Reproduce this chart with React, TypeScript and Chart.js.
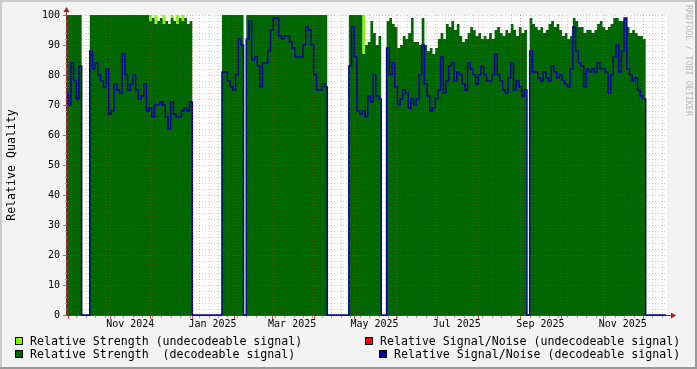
import React, { useEffect, useRef } from "react";
import { Chart, registerables } from "chart.js";

Chart.register(...registerables);

// ---- time axis (days relative to 2024-11-01) ----
const X_MIN = -31.87;
const X_MAX = 412.8;
const SAMPLE_START = -32; // first consolidated sample (day)
const SAMPLE_STEP = 2; // days between samples

const monthStarts = [-31, 0, 30, 61, 92, 120, 151, 181, 212, 242, 273, 304, 334, 365, 395];
const firstMonday = -25; // 2024-10-07
const labelDays = [15, 76, 135, 196, 257, 319, 380];
const labelTexts = ["Nov 2024", "Jan 2025", "Mar 2025", "May 2025", "Jul 2025", "Sep 2025", "Nov 2025"];
const yTicks = [0, 10, 20, 30, 40, 50, 60, 70, 80, 90, 100];

// ---- series ----
const strengthDecodeable = [
  100, 100, 100, 100, 100, 100, 0, 0, 0,
  100, 100, 100, 100, 100, 100, 100, 100, 100, 100,
  100, 100, 100, 100, 100, 100, 100, 100, 100, 100,
  100, 100,
  98, 99, 97, 98, 99, 97, 98, 97, 99, 98, 97, 99, 98, 99, 97, 98,
  0, 0, 0, 0, 0, 0, 0, 0, 0, 0, 0,
  100, 100, 100, 100, 100, 100, 100, 100,
  0,
  100, 100, 100, 100, 100, 100, 100, 100, 100, 100,
  100, 100, 100, 100, 100, 100, 100, 100, 100, 100,
  100, 100, 100, 100, 100, 100, 100, 100, 100, 100,
  0, 0, 0, 0, 0, 0, 0, 0,
  100, 100, 100, 100, 100, 87, 90, 91, 98, 94, 90, 93,
  0, 0,
  98, 99, 97, 96, 89, 90, 93, 92, 94, 99,
  91, 91, 90, 99, 90, 88, 89, 87, 89, 92,
  94, 92, 97, 96, 98, 95, 97, 93, 91, 92,
  94, 96, 95, 93, 94, 92, 93, 92, 94, 92,
  95, 96, 94, 93, 95, 94, 97, 95, 93, 96,
  94, 95,
  0,
  99, 97, 96, 95, 96, 94, 95, 97, 98, 96,
  97, 95, 93, 94, 92, 93, 99, 98, 96, 96,
  94, 95, 95, 94, 95, 97, 98, 96, 95, 96,
  97, 99, 99, 98, 98, 99, 96, 94, 95, 94,
  93, 93, 92,
  0, 0, 0, 0, 0, 0, 0, 0,
];

const strengthUndecodeable = [
  0, 0, 0, 0, 0, 0, 0, 0, 0, 0,
  0, 0, 0, 0, 0, 0, 0, 0, 0, 0,
  0, 0, 0, 0, 0, 0, 0, 0, 0, 0,
  0, 100, 0, 100, 0, 0, 100, 0, 0, 100,
  0, 100, 0, 100, 0, 0, 0, 0, 0, 0,
  0, 0, 0, 0, 0, 0, 0, 0, 0, 0,
  0, 0, 0, 0, 0, 0, 0, 0, 0, 0,
  0, 0, 0, 0, 0, 0, 0, 0, 0, 0,
  0, 0, 0, 0, 0, 0, 0, 0, 0, 0,
  0, 0, 0, 0, 0, 0, 0, 0, 0, 0,
  0, 0, 0, 0, 0, 0, 0, 0, 0, 0,
  100, 0, 0, 0, 0, 0, 0, 0, 0, 0,
  0, 0, 0, 0, 0, 0, 0, 0, 0, 0,
  0, 0, 0, 0, 0, 0, 0, 0, 0, 0,
  0, 0, 0, 0, 0, 0, 0, 0, 0, 0,
  0, 0, 0, 0, 0, 0, 0, 0, 0, 0,
  0, 0, 0, 0, 0, 0, 0, 0, 0, 0,
  0, 0, 0, 0, 0, 0, 0, 0, 0, 0,
  0, 0, 0, 0, 0, 0, 0, 0, 0, 0,
  0, 0, 0, 0, 0, 0, 0, 0, 0, 0,
  0, 0, 0, 0, 0, 0, 0, 0, 0, 0,
  0, 0, 0, 0, 0, 0, 0, 0, 0, 0,
  0, 0, 0,
];

const snDecodeable = [
  74, 70, 84, 78, 72, 83, 0, 0, 0,
  88, 82, 84, 80, 78, 76, 82, 67, 68, 77,
  75, 74, 87, 80, 75, 77, 80, 75, 72, 73,
  77, 68,
  69, 66, 70, 70, 71, 70, 66, 62, 71, 67, 66, 66, 68, 69, 68, 71,
  0, 0, 0, 0, 0, 0, 0, 0, 0, 0, 0,
  81, 81, 78, 76, 75, 80, 92, 90,
  0,
  92, 98, 85, 86, 83, 76, 84, 84, 88, 95,
  99, 99, 93, 92, 93, 93, 91, 89, 86, 86,
  86, 90, 96, 95, 90, 80, 75, 75, 77, 76,
  0, 0, 0, 0, 0, 0, 0, 0,
  83, 96, 86, 68, 67, 68, 66, 73, 71, 80, 73, 72,
  0, 0,
  89, 80, 84, 76, 70, 72, 75, 74, 69, 72,
  70, 72, 80, 90, 77, 73, 68, 69, 72, 75,
  86, 74, 78, 83, 84, 78, 81, 80, 77, 75,
  84, 82, 80, 77, 80, 83, 80, 78, 78, 80,
  87, 80, 78, 75, 74, 79, 84, 75, 78, 76,
  73, 75,
  0,
  88, 81, 81, 79, 78, 81, 79, 78, 83, 81,
  79, 80, 78, 77, 76, 82, 96, 88, 84, 83,
  76, 82, 81, 82, 81, 84, 82, 82, 81, 74,
  80, 86, 90, 81, 88, 99, 82, 80, 78, 79,
  75, 73, 72,
  0, 0, 0, 0, 0, 0, 0, 0,
];

const sampleDays = strengthDecodeable.map((_, i) => SAMPLE_START + i * SAMPLE_STEP);
const toPoints = (arr: number[]) => arr.map((v, i) => ({ x: sampleDays[i], y: v }));

const MONO = "'DejaVu Sans Mono', monospace";

const rrdPlugin = {
  id: "rrd",
  beforeDraw(chart: any) {
    const { ctx, chartArea: a, width, height } = chart;
    ctx.save();
    ctx.fillStyle = "#F3F3F3";
    ctx.fillRect(0, 0, width, height);
    ctx.fillStyle = "#CBCBCB";
    ctx.fillRect(0, 0, width, 2);
    ctx.fillRect(0, 0, 2, height);
    ctx.fillStyle = "#999999";
    ctx.fillRect(0, height - 2, width, 2);
    ctx.fillRect(width - 2, 0, 2, height);
    ctx.fillStyle = "#FFFFFF";
    ctx.fillRect(a.left, a.top, a.right - a.left, a.bottom - a.top);
    ctx.restore();
  },
  beforeDatasetsDraw(chart: any) {
    const { ctx, chartArea: a } = chart;
    ctx.save();
    ctx.strokeStyle = "#8B3030";
    ctx.lineWidth = 1;
    ctx.beginPath();
    ctx.moveTo(a.left - 0.5, a.top - 4);
    ctx.lineTo(a.left - 0.5, a.bottom + 0.5);
    ctx.lineTo(a.right + 4, a.bottom + 0.5);
    ctx.stroke();
    ctx.restore();
  },
  afterDatasetsDraw(chart: any) {
    const { ctx, chartArea: a } = chart;
    const xs = chart.scales.x;
    const ys = chart.scales.y;
    ctx.save();
    ctx.lineWidth = 1;
    // ---- grid ----
    ctx.setLineDash([1, 2]);
    const minor = "rgba(90,90,90,0.27)";
    const major = "rgba(240,60,60,0.3)";
    for (let v = 2; v < 100; v += 2) {
      if (v % 10 === 0) continue;
      const y = Math.round(ys.getPixelForValue(v)) + 0.5;
      ctx.strokeStyle = minor;
      ctx.beginPath();
      ctx.moveTo(a.left, y);
      ctx.lineTo(a.right, y);
      ctx.stroke();
    }
    for (let d = firstMonday; d <= X_MAX; d += 7) {
      const x = Math.round(xs.getPixelForValue(d)) + 0.5;
      ctx.strokeStyle = minor;
      ctx.beginPath();
      ctx.moveTo(x, a.top);
      ctx.lineTo(x, a.bottom);
      ctx.stroke();
    }
    yTicks.forEach((v) => {
      if (v === 0) return;
      const y = Math.round(ys.getPixelForValue(v)) + 0.5;
      ctx.strokeStyle = major;
      ctx.beginPath();
      ctx.moveTo(a.left, y);
      ctx.lineTo(a.right, y);
      ctx.stroke();
    });
    monthStarts.forEach((d) => {
      const x = Math.round(xs.getPixelForValue(d)) + 0.5;
      ctx.strokeStyle = major;
      ctx.beginPath();
      ctx.moveTo(x, a.top);
      ctx.lineTo(x, a.bottom);
      ctx.stroke();
    });
    ctx.setLineDash([]);

    // ---- tick marks ----
    for (let v = 0; v <= 100; v += 2) {
      const y = Math.round(ys.getPixelForValue(v)) + 0.5;
      const isMajor = v % 10 === 0;
      ctx.strokeStyle = isMajor ? "#D05050" : "#A0A0A0";
      ctx.beginPath();
      ctx.moveTo(a.left - (isMajor ? 4 : 2), y);
      ctx.lineTo(a.left, y);
      ctx.stroke();
    }
    for (let d = firstMonday; d <= X_MAX; d += 7) {
      const x = Math.round(xs.getPixelForValue(d)) + 0.5;
      ctx.strokeStyle = "#A0A0A0";
      ctx.beginPath();
      ctx.moveTo(x, a.bottom + 1);
      ctx.lineTo(x, a.bottom + 3);
      ctx.stroke();
    }
    monthStarts.forEach((d) => {
      const x = Math.round(xs.getPixelForValue(d)) + 0.5;
      ctx.strokeStyle = "#D05050";
      ctx.beginPath();
      ctx.moveTo(x, a.bottom + 1);
      ctx.lineTo(x, a.bottom + 4);
      ctx.stroke();
    });

    // ---- arrows ----
    ctx.fillStyle = "#9B2020";
    ctx.beginPath();
    ctx.moveTo(a.left - 0.5, a.top - 8);
    ctx.lineTo(a.left - 3.5, a.top - 3);
    ctx.lineTo(a.left + 2.5, a.top - 3);
    ctx.closePath();
    ctx.fill();
    ctx.beginPath();
    ctx.moveTo(a.right + 9, a.bottom + 0.5);
    ctx.lineTo(a.right + 4, a.bottom - 2.5);
    ctx.lineTo(a.right + 4, a.bottom + 3.5);
    ctx.closePath();
    ctx.fill();

    // ---- axis labels ----
    ctx.fillStyle = "#000000";
    ctx.font = `10px ${MONO}`;
    ctx.textBaseline = "middle";
    ctx.textAlign = "right";
    yTicks.forEach((v) => {
      ctx.fillText(String(v), 60, ys.getPixelForValue(v) + 0.5);
    });
    ctx.textAlign = "center";
    labelDays.forEach((d, i) => {
      ctx.fillText(labelTexts[i], xs.getPixelForValue(d), a.bottom + 9.5);
    });

    // ---- y title ----
    ctx.font = `11.6px ${MONO}`;
    ctx.save();
    ctx.translate(11.5, 165);
    ctx.rotate(-Math.PI / 2);
    ctx.textAlign = "center";
    ctx.fillText("Relative Quality", 0, 0);
    ctx.restore();

    // ---- watermark ----
    ctx.save();
    ctx.font = `8.4px ${MONO}`;
    ctx.fillStyle = "#B8B8B8";
    ctx.translate(688, 5);
    ctx.rotate(Math.PI / 2);
    ctx.textAlign = "left";
    ctx.fillText("RRDTOOL / TOBI OETIKER", 0, 0);
    ctx.restore();

    // ---- legend ----
    const items = [
      { box: [15, 337], text: [30, 341.5], color: "#80FF00", label: "Relative Strength (undecodeable signal)" },
      { box: [365, 337], text: [380, 341.5], color: "#FF0000", label: "Relative Signal/Noise (undecodeable signal)" },
      { box: [15, 350], text: [30, 355], color: "#006600", label: "Relative Strength  (decodeable signal)" },
      { box: [379, 350], text: [394, 355], color: "#000099", label: "Relative Signal/Noise (decodeable signal)" },
    ];
    ctx.font = `11.6px ${MONO}`;
    ctx.textAlign = "left";
    items.forEach((it) => {
      ctx.fillStyle = it.color;
      ctx.fillRect(it.box[0], it.box[1], 8, 8);
      ctx.strokeStyle = "#000000";
      ctx.strokeRect(it.box[0] + 0.5, it.box[1] + 0.5, 7, 7);
      ctx.fillStyle = "#000000";
      ctx.fillText(it.label, it.text[0], it.text[1]);
    });
    ctx.restore();
  },
};

export default function App() {
  const ref = useRef<HTMLCanvasElement>(null);
  useEffect(() => {
    if (!ref.current) return;
    const chart = new Chart(ref.current, {
      type: "line",
      data: {
        datasets: [
          {
            label: "Relative Signal/Noise (decodeable signal)",
            data: toPoints(snDecodeable),
            borderColor: "#000099",
            borderWidth: 1.5,
            stepped: "middle",
            fill: false,
            pointRadius: 0,
            order: 1,
            clip: 3,
          } as any,
          {
            label: "Relative Strength  (decodeable signal)",
            data: toPoints(strengthDecodeable),
            borderColor: "rgba(0,0,0,0)",
            borderWidth: 0,
            backgroundColor: "#006600",
            stepped: "middle",
            fill: "origin",
            pointRadius: 0,
            order: 2,
            clip: 0,
          },
          {
            label: "Relative Strength (undecodeable signal)",
            data: toPoints(strengthUndecodeable),
            borderColor: "rgba(0,0,0,0)",
            borderWidth: 0,
            backgroundColor: "#80FF00",
            stepped: "middle",
            fill: "origin",
            pointRadius: 0,
            order: 3,
            clip: 0,
          },
        ],
      },
      options: {
        responsive: false,
        animation: false,
        devicePixelRatio: 1,
        layout: { padding: { left: 67, right: 30, top: 15, bottom: 54 } },
        plugins: { legend: { display: false }, tooltip: { enabled: false } },
        scales: {
          x: { type: "linear", display: false, min: X_MIN, max: X_MAX },
          y: { display: false, min: 0, max: 100 },
        },
      },
      plugins: [rrdPlugin],
    });
    return () => chart.destroy();
  }, []);
  return (
    <div style={{ position: "absolute", left: 0, top: 0, width: 697, height: 369 }}>
      <canvas ref={ref} width={697} height={369} style={{ display: "block" }} />
    </div>
  );
}
